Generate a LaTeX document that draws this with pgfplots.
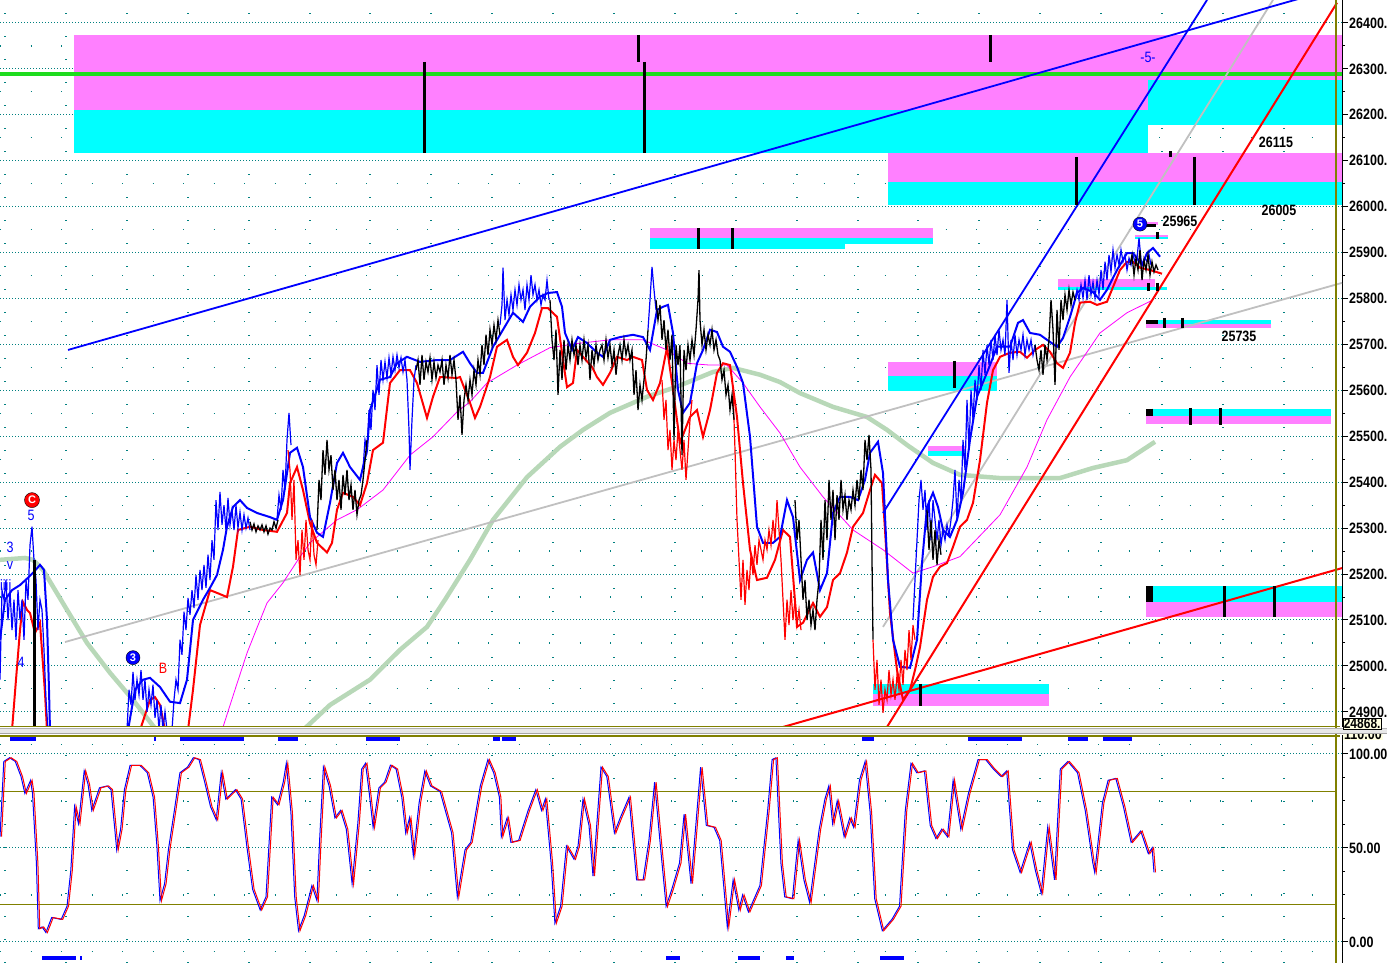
\documentclass[border=0pt]{standalone}
\usepackage{graphicx}
\usepackage{pgfplots}
\usepackage{pgfplotstable}
\pgfplotsset{compat=1.18}
\usepackage{fontspec}
\setmainfont{Liberation Sans}
\definecolor{zpink}{RGB}{255,128,255}
\definecolor{zcyan}{RGB}{0,255,255}
\definecolor{gridteal}{RGB}{0,128,128}
\definecolor{olivec}{RGB}{128,128,0}
\definecolor{maline}{RGB}{184,216,184}
\definecolor{trendgrey}{RGB}{192,192,192}
\definecolor{lblbg}{RGB}{255,255,225}
\definecolor{zgreen}{RGB}{30,220,30}
\definecolor{zmag}{RGB}{255,0,255}
\newcommand{\vs}[1]{\scalebox{1}[1.2]{#1}}

\pgfplotstableread{
x v
0 56
3.8 96
9.6 98
15.3 96
21 88
24.9 79
30.6 86
32.5 79
36.4 42
38.3 7
42.1 8
45.9 5
51.7 13
61.2 12
67 19
70.8 38
74.6 72
78.5 63
84.2 91
88 84
91.8 70
99.5 82
107.2 83
111 81
114.8 60
116.7 49
120.6 60
124.4 81
130.1 94
139.7 94
147.3 90
153.1 77
156.9 51
160 22
164.6 31
168.4 49
174.1 69
179.9 90
187.5 93
193.3 98
199 97
204.7 85
210.5 72
216.2 65
221.2 90
225.8 76
235.4 81
241.1 76
246.8 51
252.6 28
260.2 17
266 24
271.7 77
277.5 73
283.2 85
286.3 95
290.9 69
294.7 24
298.5 6
304.2 14
311.9 30
316.9 22
319.6 54
323.4 93
329.1 83
334.9 66
340.6 70
346.3 60
352.1 31
357.8 63
361.7 92
365.5 95
369.3 79
373.1 61
378.9 82
384.6 85
390.4 94
396.1 92
401.8 77
405.7 58
409.5 66
413.3 46
419.1 74
424.8 91
430.5 83
440.1 80
445.8 69
451.6 58
457.3 24
465 49
470.7 53
480.3 83
487.9 97
493.7 90
499.4 77
501.3 56
507.1 66
510.9 53
518.6 54
528.1 70
535.8 81
541.5 70
545.3 76
551.1 42
554.9 10
560.6 19
566.4 51
574 44
578 51
583 76
589 62
593 35
601 93
606.8 88
614.4 58
620.2 66
629 77
636.6 33
643.1 33
648.9 54
654.6 85
660.4 51
666.1 19
671.8 28
679.5 42
684.1 68
691 31
700.6 93
706.3 62
714 61
719.7 54
727.3 8
733.1 33
738.8 17
742.6 25
748.4 16
759.9 30
767.5 69
772.1 97
775.9 98
780.9 42
784.7 24
792.4 23
798.1 54
803.9 33
809.6 21
819.2 60
824.9 76
828.8 83
832.6 63
837.2 75
844.1 56
849.8 66
853.6 61
859.4 86
865.1 96
870.1 69
874.7 23
882.3 6
891.9 12
899.5 19
905.3 70
911 95
916.8 90
924.4 91
930.2 62
935.9 55
941.7 60
947.4 56
953.1 86
960.8 60
968.4 79
978 97
985.7 97
993.3 92
1001 88
1006.7 91
1012.5 49
1020.1 37
1029.7 53
1035.4 38
1041.2 26
1047.7 61
1054.5 33
1060.3 92
1067.9 96
1077.5 90
1085.2 70
1092.8 42
1094.7 37
1102.4 74
1108.1 86
1115.8 87
1123.4 72
1131.1 53
1140.7 59
1148.3 47
1152.1 50
1154 37
}\stoch

\pgfplotsset{
  chartbase/.style={
    scale only axis, width=1342pt, xmin=0, xmax=1342,
    axis y line*=right, axis x line*=bottom,
    x axis line style={draw=none},
    y axis line style={black, line width=1pt},
    xtick={5,66,127,188,249,310,370,431,492,553,614,675,736,797,858,918,979,1040,1101,1162,1223,1284},
    xticklabels={},
    xtick style={draw=none},
    xmajorgrids,
    major x grid style={gridteal, line width=1.2pt, dash pattern=on 1.2pt off 21.8pt},
    ymajorgrids,
    major y grid style={gridteal, line width=1pt, dash pattern=on 1pt off 2pt},
    tick align=outside,
    ytick style={black, line width=1pt},
    major tick length=6pt, minor tick length=3pt,
    yticklabel style={font=\fontsize{12.5}{13}\selectfont\bfseries, inner sep=1pt},
  },
}
\tikzset{
  lbl/.style={font=\fontsize{12.5}{12}\selectfont\bfseries, inner sep=0pt},
  wlbl/.style={font=\fontsize{12.5}{12}\selectfont, inner sep=0pt},
}

\begin{document}
\begin{tikzpicture}[x=1pt,y=1pt]
\useasboundingbox (0pt,0pt) rectangle (1387pt,963pt);

% ================= TOP PRICE PANEL =================
\begin{axis}[chartbase,
  at={(0pt,236pt)}, anchor=south west, height=727pt,
  ymin=24867, ymax=26450,
  ytick={24900,25000,25100,25200,25300,25400,25500,25600,25700,25800,25900,26000,26100,26200,26300,26400},
  yticklabels={\vs{24900.},\vs{25000.},\vs{25100.},\vs{25200.},\vs{25300.},\vs{25400.},\vs{25500.},\vs{25600.},\vs{25700.},\vs{25800.},\vs{25900.},\vs{26000.},\vs{26100.},\vs{26200.},\vs{26300.},\vs{26400.}},
  minor ytick={24950,25050,25150,25250,25350,25450,25550,25650,25750,25850,25950,26050,26150,26250,26350},
  yminorgrids,
  minor y grid style={gridteal, line width=1.2pt, dash pattern=on 1.2pt off 29.3pt},
]
% --- zones ---
\addplot[fill=zpink, draw=none] coordinates {(74,26374)(1342,26374)(1342,26276)(74,26276)};
\addplot[fill=zpink, draw=none] coordinates {(74,26276)(1148,26276)(1148,26211)(74,26211)};
\addplot[fill=zcyan, draw=none] coordinates {(74,26211)(1148,26211)(1148,26117)(74,26117)};
\addplot[fill=zcyan, draw=none] coordinates {(1148,26276)(1342,26276)(1342,26178)(1148,26178)};
\addplot[fill=zpink, draw=none] coordinates {(888,26117)(1342,26117)(1342,26054)(888,26054)};
\addplot[fill=zcyan, draw=none] coordinates {(888,26054)(1342,26054)(1342,26004)(888,26004)};
\addplot[fill=zpink, draw=none] coordinates {(650,25954)(933,25954)(933,25932)(650,25932)};
\addplot[fill=zcyan, draw=none] coordinates {(650,25932)(933,25932)(933,25919)(650,25919)};
\addplot[fill=zcyan, draw=none] coordinates {(650,25919)(845,25919)(845,25908)(650,25908)};
\addplot[fill=zpink, draw=none] coordinates {(888,25662)(997,25662)(997,25631)(888,25631)};
\addplot[fill=zcyan, draw=none] coordinates {(888,25631)(997,25631)(997,25599)(888,25599)};
\addplot[fill=zpink, draw=none] coordinates {(928,25479)(965,25479)(965,25468)(928,25468)};
\addplot[fill=zcyan, draw=none] coordinates {(928,25468)(965,25468)(965,25457)(928,25457)};
\addplot[fill=zpink, draw=none] coordinates {(1058,25843)(1155,25843)(1155,25825)(1058,25825)};
\addplot[fill=zcyan, draw=none] coordinates {(1058,25825)(1167,25825)(1167,25819)(1058,25819)};
\addplot[fill=zcyan, draw=none] coordinates {(1146,25753)(1271,25753)(1271,25745)(1146,25745)};
\addplot[fill=zpink, draw=none] coordinates {(1146,25745)(1271,25745)(1271,25736)(1146,25736)};
\addplot[fill=zcyan, draw=none] coordinates {(1146,25560)(1331,25560)(1331,25544)(1146,25544)};
\addplot[fill=zpink, draw=none] coordinates {(1146,25544)(1331,25544)(1331,25527)(1146,25527)};
\addplot[fill=zcyan, draw=none] coordinates {(1146,25174)(1342,25174)(1342,25139)(1146,25139)};
\addplot[fill=zpink, draw=none] coordinates {(1146,25139)(1342,25139)(1342,25107)(1146,25107)};
\addplot[fill=zcyan, draw=none] coordinates {(873,24961)(1049,24961)(1049,24939)(873,24939)};
\addplot[fill=zpink, draw=none] coordinates {(873,24939)(1049,24939)(1049,24913)(873,24913)};
\addplot[fill=zpink, draw=none] coordinates {(1135,25967)(1158,25967)(1158,25960)(1135,25960)};
\addplot[fill=zpink, draw=none] coordinates {(1135,25938)(1168,25938)(1168,25934)(1135,25934)};
\addplot[fill=zcyan, draw=none] coordinates {(1135,25934)(1168,25934)(1168,25930)(1135,25930)};

% --- green level line ---
\addplot[zgreen, line width=4pt] coordinates {(0,26289)(1342,26289)};

% --- pale green moving average ---
\addplot[maline, line width=4.5pt] coordinates {(0,25231)(25,25235)(33,25231)(43,25209)(67,25122)(87,25050)(110,24985)(133,24926)(160,24850)};
\addplot[maline, line width=4.5pt] coordinates {(298,24850)(330,24915)(370,24970)(400,25035)(427,25085)(445,25144)(470,25231)(493,25318)(527,25411)(560,25477)(583,25514)(610,25551)(647,25586)(677,25608)(713,25640)(733,25649)(760,25634)(780,25618)(800,25594)(833,25564)(867,25542)(887,25514)(907,25481)(933,25442)(960,25416)(1000,25409)(1060,25409)(1093,25431)(1127,25448)(1155,25488)};

% --- grey trend lines ---
\addplot[trendgrey, line width=1.8pt] coordinates {(65,25052)(1342,25834)};
\addplot[trendgrey, line width=1.8pt] coordinates {(883,25085)(1273,26450)};

% --- magenta long average ---
\addplot[zmag, line width=0.8pt] coordinates {(222,24860)(235,24948)(247,25028)(257,25083)(267,25137)(283,25181)(298,25231)(310,25268)(337,25318)(357,25340)(383,25383)(410,25459)(433,25499)(457,25553)(470,25575)(487,25616)(517,25655)(550,25693)(577,25702)(610,25710)(643,25710)(667,25688)(687,25659)(710,25655)(727,25655)(743,25616)(760,25564)(780,25507)(800,25433)(823,25368)(853,25296)(883,25253)(913,25202)(933,25216)(960,25238)(1000,25329)(1027,25433)(1047,25536)(1070,25629)(1100,25725)(1127,25769)(1153,25797)};

% --- red smooth lower line ---
\addplot[red, line width=2pt] coordinates {(12,24860)(16,24970)(20,25078)(23,25139)(27,25122)(30,25115)(35,25072)(40,25094)(45,24941)(47,24860)};
\addplot[red, line width=2pt] coordinates {(140,24860)(145,24893)(150,24926)(155,24932)(160,24915)(165,24860)};
\addplot[red, line width=2pt] coordinates {(188,24860)(193,24948)(200,25089)(210,25165)(217,25159)(227,25150)(233,25216)(238,25296)(250,25303)(263,25296)(277,25292)(287,25333)(290,25398)(297,25433)(303,25383)(310,25311)(317,25268)(327,25247)(332,25268)(337,25340)(343,25377)(353,25368)(360,25350)(367,25398)(373,25470)(383,25486)(390,25616)(400,25644)(410,25644)(417,25616)(427,25540)(433,25586)(440,25629)(457,25627)(460,25629)(470,25573)(475,25540)(480,25564)(490,25629)(497,25695)(507,25710)(513,25673)(518,25655)(527,25682)(535,25725)(542,25779)(548,25779)(557,25760)(563,25666)(567,25607)(573,25616)(577,25688)(583,25673)(592,25651)(597,25629)(603,25612)(610,25638)(617,25673)(627,25666)(633,25673)(642,25666)(647,25601)(653,25579)(660,25616)(667,25693)(673,25601)(680,25486)(690,25542)(697,25557)(703,25499)(710,25557)(717,25638)(723,25659)(730,25655)(737,25542)(743,25398)(750,25253)(757,25187)(767,25192)(775,25231)(783,25296)(790,25281)(797,25085)(803,25094)(813,25137)(820,25107)(827,25128)(833,25187)(840,25202)(847,25247)(853,25303)(863,25333)(870,25383)(875,25416)(882,25398)(885,25296)(890,25115)(897,24991)(903,24926)(910,24948)(915,24991)(920,25041)(927,25144)(933,25194)(940,25216)(947,25224)(953,25259)(960,25303)(967,25318)(973,25355)(980,25448)(987,25573)(993,25644)(1000,25673)(1010,25682)(1020,25684)(1027,25671)(1035,25688)(1043,25699)(1050,25684)(1057,25659)(1063,25649)(1070,25682)(1075,25747)(1080,25791)(1090,25793)(1097,25786)(1107,25793)(1113,25825)(1120,25862)(1127,25880)(1133,25880)(1140,25867)(1150,25862)(1162,25854)};

% --- blue smooth upper line ---
\addplot[blue, line width=2pt] coordinates {(0,25057)(5,25144)(12,25165)(20,25176)(28,25192)(34,25205)(40,25220)(44,25209)(47,25100)(49,24948)(50,24860)};
\addplot[blue, line width=2pt] coordinates {(128,24860)(135,24948)(143,24970)(150,24974)(160,24954)(170,24922)(180,24919)(187,24970)(193,25100)(203,25144)(210,25170)(217,25198)(223,25253)(227,25303)(233,25346)(240,25361)(247,25344)(257,25333)(270,25324)(277,25318)(283,25361)(290,25464)(297,25475)(303,25433)(310,25324)(317,25290)(323,25281)(330,25355)(337,25442)(343,25464)(350,25433)(360,25405)(367,25470)(370,25557)(380,25623)(390,25629)(397,25659)(407,25673)(420,25662)(437,25666)(450,25666)(463,25684)(470,25659)(477,25638)(483,25638)(493,25695)(503,25732)(513,25769)(523,25749)(530,25782)(540,25804)(548,25812)(557,25814)(562,25782)(565,25725)(572,25688)(578,25716)(587,25703)(597,25682)(603,25673)(610,25710)(620,25716)(633,25721)(643,25716)(650,25688)(657,25775)(663,25782)(668,25786)(673,25725)(678,25601)(683,25551)(690,25573)(697,25659)(703,25688)(710,25732)(717,25727)(723,25695)(730,25684)(737,25651)(743,25616)(750,25499)(757,25303)(763,25268)(773,25268)(780,25281)(787,25361)(793,25324)(800,25187)(807,25231)(813,25247)(820,25165)(827,25202)(833,25333)(840,25368)(850,25368)(858,25361)(865,25405)(870,25464)(878,25488)(883,25420)(888,25187)(893,25057)(900,24998)(910,24996)(917,25057)(922,25224)(927,25346)(933,25377)(938,25346)(943,25296)(950,25281)(957,25318)(963,25377)(970,25492)(977,25586)(988,25644)(997,25695)(1010,25695)(1018,25747)(1023,25753)(1030,25725)(1040,25721)(1047,25710)(1057,25695)(1063,25714)(1070,25760)(1077,25812)(1083,25823)(1093,25814)(1100,25797)(1107,25819)(1117,25862)(1127,25899)(1133,25899)(1142,25873)(1147,25899)(1153,25910)(1160,25891)};

% --- red jagged (lower-band prints) ---
\addplot[red, line width=1.2pt] coordinates {(288,25470)(290,25427)(292,25318)(294,25405)(296,25231)(298,25274)(300,25198)(302,25296)(304,25231)(306,25318)(308,25253)(310,25231)(312,25318)(314,25242)(316,25220)(318,25274)};
\addplot[red, line width=1.2pt] coordinates {(662,25623)(664,25536)(666,25579)(668,25470)(670,25514)(672,25427)(674,25492)(676,25448)(678,25514)(680,25470)(682,25427)(684,25492)(686,25405)(688,25470)(690,25536)(692,25579)};
\addplot[red, line width=1.2pt] coordinates {(733,25601)(735,25470)(737,25318)(739,25231)(741,25144)(743,25231)(745,25133)(747,25209)(749,25165)(751,25242)(753,25198)(755,25263)(757,25220)(759,25274)(761,25253)(763,25231)(765,25274)(767,25253)(769,25296)(771,25263)(773,25318)(775,25274)(777,25361)(779,25296)(781,25231)(783,25144)(785,25057)(787,25144)(789,25089)(791,25165)(793,25100)(795,25144)(797,25089)(799,25122)(801,25078)};
\addplot[red, line width=1.2pt] coordinates {(873,25057)(875,24948)(877,25013)(879,24915)(881,24970)(883,24898)(885,24948)(887,24926)(889,24991)(891,24937)(893,24970)(895,24926)(897,24980)(899,24948)(901,25013)(903,24959)(905,25035)(907,24991)(909,25078)(911,25013)(913,25089)(915,25057)};

% --- blue jagged price ---
\addplot[blue, line width=1.2pt] coordinates {(0,24970)(2,25165)(4,25144)(6,25187)(8,25100)(10,25165)(12,25078)(14,25144)(16,25057)(18,25165)(20,25100)(22,25144)(24,25057)(26,25187)(28,25144)(30,25263)(32,25303)(34,25231)(36,25187)(38,25078)(40,25144)(42,25122)(44,25035)(46,24926)(48,24860)};
\addplot[blue, line width=1.2pt] coordinates {(127,24860)(129,24948)(131,24915)(133,24987)(135,24926)(137,24970)(139,24937)(141,24991)(143,24926)(145,24970)(147,24900)(149,24948)(151,24915)(153,24959)(155,24887)(157,24926)(159,24860)(161,24915)(163,24860)(165,24900)(167,24860)};
\addplot[blue, line width=1.2pt] coordinates {(172,24860)(174,24926)(176,24970)(178,24948)(180,25057)(182,25024)(184,25118)(186,25078)(188,25148)(190,25111)(192,25165)(194,25126)(196,25198)(198,25144)(200,25209)(202,25165)(204,25220)(206,25170)(208,25242)(210,25187)(212,25274)(214,25231)(216,25361)(218,25296)(220,25379)(222,25307)(224,25350)(226,25296)(228,25366)(230,25307)(232,25340)(234,25296)(236,25350)(238,25300)(240,25335)(242,25296)(244,25329)(246,25300)(248,25322)(250,25296)};
\addplot[blue, line width=1.2pt] coordinates {(277,25318)(279,25372)(281,25340)(283,25427)(285,25383)(287,25492)(289,25551)(291,25481)};
\addplot[blue, line width=1.2pt] coordinates {(363,25427)(365,25492)(367,25470)(369,25557)(371,25514)(373,25601)(375,25557)(377,25655)(379,25590)(381,25666)(383,25623)(385,25662)(387,25627)(389,25671)(391,25634)(393,25673)(395,25644)(397,25677)(399,25649)(401,25671)(403,25640)(405,25666)(407,25623)(409,25514)(410,25427)(412,25536)(414,25623)(416,25655)};
\addplot[blue, line width=1.2pt] coordinates {(500,25742)(502,25786)(503,25867)(505,25753)(507,25797)(509,25764)(511,25808)(513,25775)(515,25819)(517,25786)(519,25830)(521,25797)(523,25819)(525,25775)(527,25830)(529,25797)(531,25851)(533,25808)(535,25830)(537,25797)(539,25819)(541,25786)(543,25808)(545,25797)(547,25840)(549,25797)};
\addplot[blue, line width=1.2pt] coordinates {(648,25732)(650,25797)(652,25869)(654,25819)(656,25775)};
\addplot[blue, line width=1.2pt] coordinates {(913,25100)(915,25187)(917,25274)(919,25361)(921,25405)(923,25340)(925,25383)(927,25296)(929,25361)(931,25274)(933,25361)(935,25318)(937,25274)(939,25318)(941,25263)(943,25296)(945,25274)(947,25307)(949,25285)(951,25318)(953,25361)(955,25427)(957,25318)(959,25405)(961,25361)(963,25492)(965,25427)(967,25579)(969,25470)(971,25601)(973,25536)(975,25623)(977,25579)(979,25655)(981,25601)(983,25688)(985,25634)(987,25699)(989,25655)(991,25710)(993,25666)(995,25721)(997,25677)(999,25732)(1001,25688)(1003,25710)(1005,25677)(1007,25797)(1009,25638)(1011,25710)(1013,25666)(1015,25721)(1017,25677)(1019,25710)(1021,25688)(1023,25721)(1025,25677)(1027,25710)(1029,25688)(1031,25710)(1033,25677)(1035,25699)};
\addplot[blue, line width=1.2pt] coordinates {(1075,25797)(1077,25819)(1079,25797)(1081,25830)(1083,25801)(1085,25840)(1087,25797)(1089,25851)(1091,25808)(1093,25836)(1095,25801)(1097,25840)(1099,25808)(1101,25862)(1103,25819)(1105,25880)(1107,25840)(1109,25895)(1111,25858)(1113,25906)(1115,25867)(1117,25895)(1119,25873)(1121,25906)(1123,25880)(1125,25895)(1127,25862)(1129,25888)(1131,25873)(1133,25895)(1135,25880)(1137,25888)(1139,25932)(1141,25884)(1143,25873)(1145,25888)(1147,25880)(1149,25895)(1151,25873)};

% --- black candles ---
\addplot[black, line width=1.3pt] coordinates {(250,25314)(252,25296)(254,25309)(256,25292)(258,25305)(260,25296)(262,25307)(264,25292)(266,25305)(268,25287)(270,25300)(272,25296)(274,25314)(276,25300)(278,25318)};
\addplot[black, line width=1.3pt] coordinates {(317,25296)(319,25405)(321,25361)(323,25470)(325,25416)(327,25492)(329,25427)(331,25459)(333,25383)(335,25427)(337,25361)(339,25405)(341,25340)(343,25416)(345,25372)(347,25427)(349,25361)(351,25394)(353,25340)(355,25383)(357,25329)(359,25361)(361,25372)(363,25405)(365,25448)(367,25492)};
\addplot[black, line width=1.3pt] coordinates {(416,25644)(418,25666)(420,25612)(422,25677)(424,25623)(426,25662)(428,25640)(430,25671)(432,25623)(434,25662)(436,25627)(438,25655)(440,25640)(442,25666)(444,25612)(446,25655)(448,25627)(450,25677)(452,25634)(454,25666)(456,25623)(458,25536)(460,25590)(462,25503)(464,25579)(466,25612)(468,25579)(470,25623)(472,25590)(474,25644)(476,25612)(478,25666)(480,25634)(482,25699)(484,25655)(486,25721)(488,25677)(490,25732)(492,25699)(494,25742)(496,25710)(498,25753)(500,25721)};
\addplot[black, line width=1.3pt] coordinates {(550,25797)(552,25710)(554,25666)(556,25732)(558,25590)(560,25688)(562,25623)(564,25710)(566,25644)(568,25699)(570,25666)(572,25710)(574,25677)(576,25699)(578,25655)(580,25699)(582,25666)(584,25710)(586,25671)(588,25699)(590,25623)(592,25688)(594,25655)(596,25699)(598,25666)(600,25688)(602,25699)(604,25666)(606,25710)(608,25671)(610,25699)(612,25655)(614,25688)(616,25634)(618,25677)(620,25699)(622,25666)(624,25710)(626,25677)(628,25699)(630,25666)(632,25688)(634,25590)(636,25644)(638,25557)(640,25612)(642,25579)(644,25623)(646,25666)(648,25732)};
\addplot[black, line width=1.3pt] coordinates {(656,25797)(658,25753)(660,25786)(662,25710)(664,25753)(666,25688)(668,25732)(670,25666)(672,25721)(674,25492)(676,25699)(678,25655)(680,25699)(682,25459)(684,25688)(686,25644)(688,25699)(690,25666)(692,25710)(694,25677)(696,25732)(698,25797)(699,25862)(700,25753)(702,25699)(704,25732)(706,25688)(708,25721)(710,25699)(712,25732)(714,25688)(716,25710)(718,25677)(720,25666)(722,25623)(724,25644)(726,25590)(728,25612)(730,25557)(732,25590)(734,25536)};
\addplot[black, line width=1.3pt] coordinates {(795,25361)(797,25274)(799,25318)(801,25231)(803,25144)(805,25187)(807,25100)(809,25144)(811,25089)(813,25122)(815,25078)(817,25144)(819,25187)(821,25318)(823,25231)(825,25361)(827,25274)(829,25405)(831,25318)(833,25383)(835,25274)(837,25372)(839,25318)(841,25405)(843,25340)(845,25372)(847,25318)(849,25361)(851,25340)(853,25383)(855,25350)(857,25405)(859,25361)(861,25427)(863,25383)(865,25492)(867,25448)(869,25503)(871,25427)(872,25231)(873,25057)};
\addplot[black, line width=1.3pt] coordinates {(927,25340)(929,25253)(931,25318)(933,25231)(935,25296)(937,25220)(939,25274)(941,25242)};
\addplot[black, line width=1.3pt] coordinates {(1035,25699)(1037,25666)(1039,25644)(1041,25688)(1043,25634)(1045,25699)(1047,25666)(1049,25710)(1051,25797)(1053,25732)(1055,25612)(1057,25775)(1059,25688)(1061,25797)(1063,25753)(1065,25808)(1067,25775)(1069,25819)(1071,25786)(1073,25814)(1075,25797)};
\addplot[black, line width=1.3pt] coordinates {(1130,25873)(1132,25895)(1134,25851)(1136,25888)(1138,25862)(1140,25906)(1142,25840)(1144,25884)(1146,25862)(1148,25895)(1150,25851)(1152,25880)(1154,25858)(1156,25873)(1158,25862)};

% --- blue and red trend lines ---
\addplot[blue, line width=1.8pt] coordinates {(68,25688)(1285,26444)(1342,26479)};
\addplot[blue, line width=1.8pt] coordinates {(883,25333)(1207,26450)};
\addplot[red, line width=2pt] coordinates {(887,24867)(1337,26444)};
\addplot[red, line width=2pt] coordinates {(783,24867)(1342,25213)};

% --- black range bars ---
\addplot[black, line width=3pt, unbounded coords=jump] coordinates {
(424,26315)(424,26117)(424,nan)
(638,26374)(638,26315)(638,nan)
(644,26315)(644,26117)(644,nan)
(990,26374)(990,26315)(990,nan)
(1076,26108)(1076,26004)(1076,nan)
(1194,26108)(1194,26004)(1194,nan)
(1170,26121)(1170,26108)(1170,nan)
(698,25954)(698,25908)(698,nan)
(732,25954)(732,25908)(732,nan)
(954,25664)(954,25605)(954,nan)
(1190,25562)(1190,25525)(1190,nan)
(1220,25562)(1220,25525)(1220,nan)
(1224,25174)(1224,25107)(1224,nan)
(1274,25174)(1274,25107)(1274,nan)
(920,24961)(920,24913)(920,nan)
(1164,25758)(1164,25736)(1164,nan)
(1182,25758)(1182,25736)(1182,nan)
(1157,25945)(1157,25930)(1157,nan)
(1148,25834)(1148,25817)(1148,nan)
(1157,25834)(1157,25817)};
\addplot[black, line width=7pt, unbounded coords=jump] coordinates {
(1149,25560)(1149,25544)(1149,nan)
(1149,25174)(1149,25139)};
\addplot[black, line width=4pt] coordinates {(1146,25749)(1158,25749)};
\addplot[black, line width=3pt] coordinates {(1145,25958)(1156,25958)};
\addplot[black, line width=3pt] coordinates {(34,25231)(34,24860)};

% --- annotations ---
\node[lbl] at (axis cs:1276,26139) {\vs{26115}};
\node[lbl] at (axis cs:1279,25991) {\vs{26005}};
\node[lbl] at (axis cs:1180,25969) {\vs{25965}};
\node[lbl] at (axis cs:1239,25718) {\vs{25735}};
\node[wlbl, text=blue] at (axis cs:1148,26326) {\vs{-5-}};
\node[circle, draw=black, fill=blue, text=white, inner sep=0pt, minimum size=14pt, font=\fontsize{11}{11}\selectfont\bfseries] at (axis cs:1140,25962) {5};
\node[circle, draw=black, fill=red, text=white, inner sep=0pt, minimum size=15pt, font=\fontsize{11}{11}\selectfont\bfseries] at (axis cs:32,25361) {C};
\node[wlbl, text=blue] at (axis cs:31,25327) {\vs{5}};
\node[wlbl, text=blue] at (axis cs:10,25259) {\vs{3}};
\node[wlbl, text=blue] at (axis cs:10,25218) {\vs{v}};
\node[wlbl, text=blue, anchor=west] at (axis cs:0,25176) {\vs{iiii}};
\node[wlbl, text=blue] at (axis cs:21,25007) {\vs{4}};
\node[circle, draw=black, fill=blue, text=white, inner sep=0pt, minimum size=14pt, font=\fontsize{11}{11}\selectfont\bfseries] at (axis cs:133,25018) {3};
\node[wlbl, text=red] at (axis cs:163,24994) {\vs{B}};
\end{axis}

% ================= BOTTOM STOCHASTIC PANEL =================
\begin{axis}[chartbase,
  at={(0pt,0pt)}, anchor=south west, height=228pt,
  ymin=-11.2, ymax=110.1,
  ytick={0,50,100},
  yticklabels={\vs{0.00},\vs{50.00},\vs{100.00}},
  minor ytick={12.5,25,37.5,62.5,75,87.5},
  extra y ticks={-5,25,75,105},
  extra y tick labels={},
  extra y tick style={ymajorgrids=true, major tick length=0pt,
     major y grid style={gridteal, line width=1.2pt, dash pattern=on 1.2pt off 29.3pt}},
]
\addplot[olivec, line width=1.3pt] coordinates {(0,80)(1336,80)};
\addplot[olivec, line width=1.3pt] coordinates {(0,20)(1336,20)};
\addplot[blue, line width=1pt] table[x=x, y=v] {\stoch};
\addplot[red, line width=1pt] table[x expr=\thisrow{x}+1.5, y=v] {\stoch};
\addplot[blue, line width=5pt, unbounded coords=jump] coordinates {
(10,108.4)(36,108.4)(36,nan)
(154,108.4)(156,108.4)(156,nan)
(180,108.4)(244,108.4)(244,nan)
(278,108.4)(298,108.4)(298,nan)
(366,108.4)(400,108.4)(400,nan)
(493,108.4)(500,108.4)(500,nan)
(502,108.4)(516,108.4)(516,nan)
(862,108.4)(874,108.4)(874,nan)
(968,108.4)(1022,108.4)(1022,nan)
(1068,108.4)(1088,108.4)(1088,nan)
(1103,108.4)(1132,108.4)};
\addplot[blue, line width=4pt, unbounded coords=jump] coordinates {
(42,-8.3)(76,-8.3)(76,nan)
(80,-8.3)(81.5,-8.3)(81.5,nan)
(666,-8.3)(680,-8.3)(680,nan)
(738,-8.3)(760,-8.3)(760,nan)
(786,-8.3)(794,-8.3)(794,nan)
(880,-8.3)(904,-8.3)};
\end{axis}

% ================= frame decorations =================
\draw[olivec, line width=1.3pt] (1336pt,0pt) -- (1336pt,963pt);
\node[anchor=west, fill=lblbg, inner sep=1pt, font=\fontsize{12.5}{13}\selectfont\bfseries] at (1343pt,229pt) {\vs{110.00}};
\fill[gray!18] (0pt,229pt) rectangle (1387pt,235pt);
\draw[gray!60, line width=0.8pt] (0pt,234.5pt) -- (1387pt,234.5pt);
\draw[gray!70, line width=0.8pt] (0pt,229.5pt) -- (1387pt,229.5pt);
\draw[olivec, line width=1.3pt] (0pt,236.5pt) -- (1340pt,236.5pt);
\draw[olivec, line width=1.3pt] (0pt,227pt) -- (1340pt,227pt);
\node[anchor=west, fill=lblbg, draw=black, inner sep=0.6pt, font=\fontsize{12}{12}\selectfont\bfseries] at (1343pt,239pt) {\vs{24868.}};
\end{tikzpicture}
\end{document}
